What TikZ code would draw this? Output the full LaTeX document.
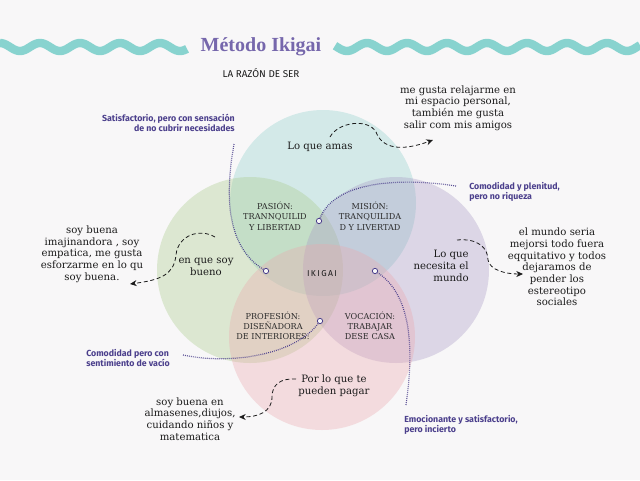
\documentclass[tikz,border=0pt]{standalone}
\usepackage{fontspec}
\setmainfont{DejaVu Serif}
\setsansfont{Fira Sans}
\newfontfamily\titlefont{Liberation Serif}
\usetikzlibrary{arrows.meta}
\definecolor{ikbg}{HTML}{F8F7F8}
\definecolor{ikink}{HTML}{1B1B1B}
\definecolor{ikdark}{HTML}{2A2A2A}
\definecolor{iktitle}{HTML}{7667AC}
\definecolor{iknote}{HTML}{4B3F8C}
\definecolor{ikwave}{HTML}{88D3CF}
\definecolor{iklove}{HTML}{8FD0CC}
\definecolor{ikgood}{HTML}{A9CC8A}
\definecolor{ikneed}{HTML}{A89BC5}
\definecolor{ikpaid}{HTML}{EBA8AE}
\tikzset{
  ik circle/.style={fill opacity=0.35},
  ik wave/.style={draw=ikwave, line width=6.3pt},
  ik title/.style={font=\titlefont\bfseries\fontsize{15}{18}\selectfont, text=iktitle, inner sep=0pt},
  ik sub/.style={font=\sffamily\fontsize{7.4}{8.5}\selectfont, text=ikink, inner sep=0pt},
  ik body/.style={font=\fontsize{7.6}{8.8}\selectfont, text=ikink, align=center, inner sep=0pt},
  ik zone/.style={font=\fontsize{6.1}{7.7}\selectfont, text=ikdark, align=center, inner sep=0pt},
  ik note/.style={font=\sffamily\bfseries\fontsize{6.6}{7.9}\selectfont, text=iknote, inner sep=0pt},
  ik dash/.style={-{Stealth[length=5pt,width=4.5pt]}, dash pattern=on 3pt off 2pt,
    line width=0.6pt, draw=ikink},
  ik dots/.style={draw=iknote, line width=0.9pt, dash pattern=on 0.6pt off 0.9pt},
  ik dot/.style={circle, draw=iknote, fill=ikbg, line width=0.6pt, inner sep=0pt,
    minimum size=4pt}
}

\begin{document}
\begin{tikzpicture}[x=0.75pt, y=-0.75pt]
  \fill[ikbg] (0,0) rectangle (640,480);
  \useasboundingbox (0,0) rectangle (640,480);
  % header
  \draw[ik wave] plot[domain=0:187, samples=120, smooth] (\x, {47-4*cos(9*\x)});
  \draw[ik wave] plot[domain=335:640, samples=160, smooth] (\x, {47-4*cos(9*(\x-367))});
  \node[ik title] (title) at (261,47) {Método Ikigai};
  \node[ik sub] (sub) at (261,73) {LA RAZÓN DE SER};
  % the four circles
  \fill[ik circle, iklove] (323,203) circle [radius=93];
  \fill[ik circle, ikgood] (250,270) circle [radius=93];
  \fill[ik circle, ikneed] (396,270) circle [radius=93];
  \fill[ik circle, ikpaid] (322,337) circle [radius=93];
  % circle labels
  \node[ik body] (amas) at (320,147) {Lo que amas};
  \node[ik body] (bueno) at (206,267) {en que soy\\bueno};
  \node[ik body, align=right, anchor=east] (necesita) at (469,266) {Lo que\\necesita el\\mundo};
  \node[ik body] (pagar) at (334,386) {Por lo que te\\pueden pagar};
  % overlaps
  \node[ik zone] (pasion) at (275,216) {PASIÓN:\\TRANNQUILID\\Y LIBERTAD};
  \node[ik zone] (mision) at (370,216) {MISIÓN:\\TRANQUILIDA\\D Y LIVERTAD};
  \node[ik zone] (profesion) at (273,326) {PROFESIÓN:\\DISEÑADORA\\DE INTERIORES:};
  \node[ik zone] (vocacion) at (370,326) {VOCACIÓN:\\TRABAJAR\\DESE CASA};
  \node[ik sub, font=\sffamily\fontsize{6.4}{8}\selectfont] (ikigai) at (322,274) {I\,K\,I\,G\,A\,I};
  % comments
  \node[ik body] (relajarme) at (458,108) {me gusta relajarme en\\mi espacio personal,\\también me gusta\\salir com mis amigos};
  \node[ik body] (imajina) at (92,254) {soy buena\\imajinandora , soy\\empatica, me gusta\\esforzarme en lo qu\\soy buena.};
  \node[ik body] (equitativo) at (557,267) {el mundo seria\\mejorsi todo fuera\\eqquitativo y todos\\dejaramos de\\pender los\\estereotipo\\sociales};
  \node[ik body] (almasenes) at (190,419) {soy buena en\\almasenes,diujos,\\cuidando niños y\\matematica};
  \coordinate (amas-s) at (330,137);
  \coordinate (relajarme-e) at (433,140);
  \coordinate (bueno-s) at (215,237);
  \coordinate (imajina-e) at (130,284);
  \coordinate (necesita-s) at (457,240);
  \coordinate (equitativo-e) at (523,274);
  \coordinate (pagar-s) at (296,379);
  \coordinate (almasenes-e) at (239,417);
  \draw[ik dash] (amas-s) .. controls (338,122) and (368,118) .. (376,132)
    .. controls (382,148) and (400,152) .. (relajarme-e);
  \draw[ik dash] (bueno-s) .. controls (200,228) and (178,235) .. (176,255)
    .. controls (174,275) and (160,280) .. (imajina-e);
  \draw[ik dash] (necesita-s) .. controls (478,238) and (488,248) .. (488,260)
    .. controls (490,270) and (505,274) .. (equitativo-e);
  \draw[ik dash] (pagar-s) .. controls (280,378) and (272,385) .. (272,397)
    .. controls (272,412) and (258,417) .. (almasenes-e);
  % notes
  \node[ik note, align=right, anchor=east] (satis) at (235,123) {Satisfactorio, pero con sensación\\de no cubrir necesidades};
  \node[ik note, align=left, anchor=west] (plenitud) at (469,192) {Comodidad y plenitud,\\pero no riqueza};
  \node[ik note, align=left, anchor=west] (vacio) at (86,358) {Comodidad pero con\\sentimiento de vacío};
  \node[ik note, align=left, anchor=west] (incierto) at (404,425) {Emocionante y satisfactorio,\\pero incierto};
  \node[ik dot] (dpasion) at (266,271) {};
  \node[ik dot] (dmision) at (319,221) {};
  \node[ik dot] (dprofesion) at (320,321) {};
  \node[ik dot] (dvocacion) at (375,271) {};
  \coordinate (satis-e) at (234,144);
  \coordinate (plenitud-e) at (456,186);
  \coordinate (vacio-e) at (183,355);
  \coordinate (incierto-e) at (406,405);
  \draw[ik dots] (satis-e) .. controls (226,190) and (224,245) .. (dpasion);
  \draw[ik dots] (plenitud-e) .. controls (398,177) and (334,182) .. (dmision);
  \draw[ik dots] (vacio-e) .. controls (230,365) and (295,355) .. (dprofesion);
  \draw[ik dots] (incierto-e) .. controls (414,350) and (412,295) .. (dvocacion);
\end{tikzpicture}
\end{document}
